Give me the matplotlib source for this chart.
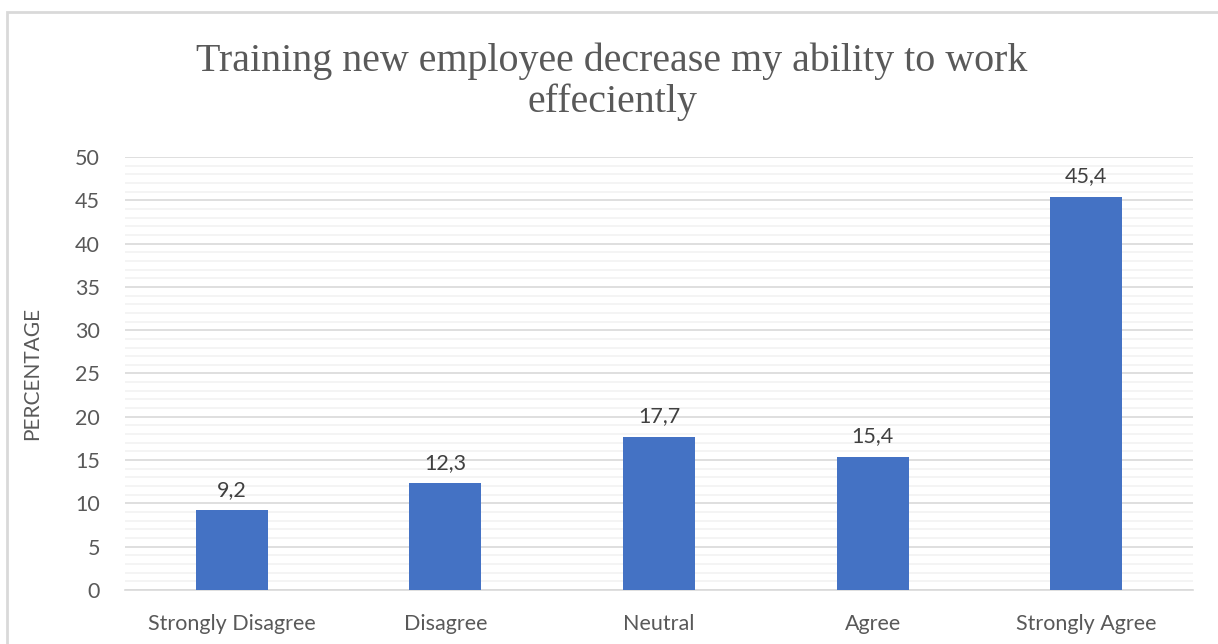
import matplotlib.pyplot as plt
from matplotlib.patches import Rectangle
from matplotlib.ticker import MultipleLocator

categories = ["Strongly Disagree", "Disagree", "Neutral", "Agree", "Strongly Agree"]
percentages = [9.2, 12.3, 17.7, 15.4, 45.4]
labels = ["9,2", "12,3", "17,7", "15,4", "45,4"]

fig = plt.figure(figsize=(12.18, 6.44), dpi=100, facecolor="white")
ax = fig.add_axes([0.1026, 0.0839, 0.8769, 0.6723])

# outer chart frame (the right and bottom edges run past the canvas)
fig.patches.append(Rectangle((7 / 1218, -0.1), 1.2, (644 - 12) / 644 + 0.1,
                             transform=fig.transFigure, fill=False,
                             edgecolor="#d9d9d9", linewidth=2))

x = range(len(categories))
ax.bar(x, percentages, width=0.337, color="#4472c4", zorder=3)
for xi, v, s in zip(x, percentages, labels):
    ax.text(xi, v + 1.2, s, ha="center", va="bottom", fontsize=15.5,
            family="Lato", color="#404040")

ax.set_xlim(-0.5, 4.5)
ax.set_ylim(0, 50)
ax.yaxis.set_major_locator(MultipleLocator(5))
ax.yaxis.set_minor_locator(MultipleLocator(1))
ax.grid(which="major", axis="y", color="#d9d9d9", linewidth=1.2, zorder=0)
ax.grid(which="minor", axis="y", color="#f2f2f2", linewidth=1.2, zorder=0)
ax.tick_params(which="both", length=0)
ax.tick_params(axis="y", labelsize=15.5, labelcolor="#595959", pad=18)
ax.tick_params(axis="x", labelsize=15.5, labelcolor="#595959", pad=17)
ax.set_xticks(list(x))
ax.set_xticklabels(categories)
for lab in ax.get_xticklabels() + ax.get_yticklabels():
    lab.set_family("Lato")
for side in ["top", "right", "left"]:
    ax.spines[side].set_visible(False)
ax.spines["bottom"].set_color("#d9d9d9")
ax.spines["bottom"].set_linewidth(1.2)

ax.set_ylabel("PERCENTAGE", fontsize=15, color="#595959", family="Lato")
ax.yaxis.set_label_coords(-0.078, 0.5)

fig.text(0.5025, 0.873, "Training new employee decrease my ability to work\neffeciently",
         ha="center", va="center", fontsize=28.8, family="Liberation Serif",
         color="#595959", linespacing=1.12)

fig.savefig("out.png", dpi=100, facecolor="white")
